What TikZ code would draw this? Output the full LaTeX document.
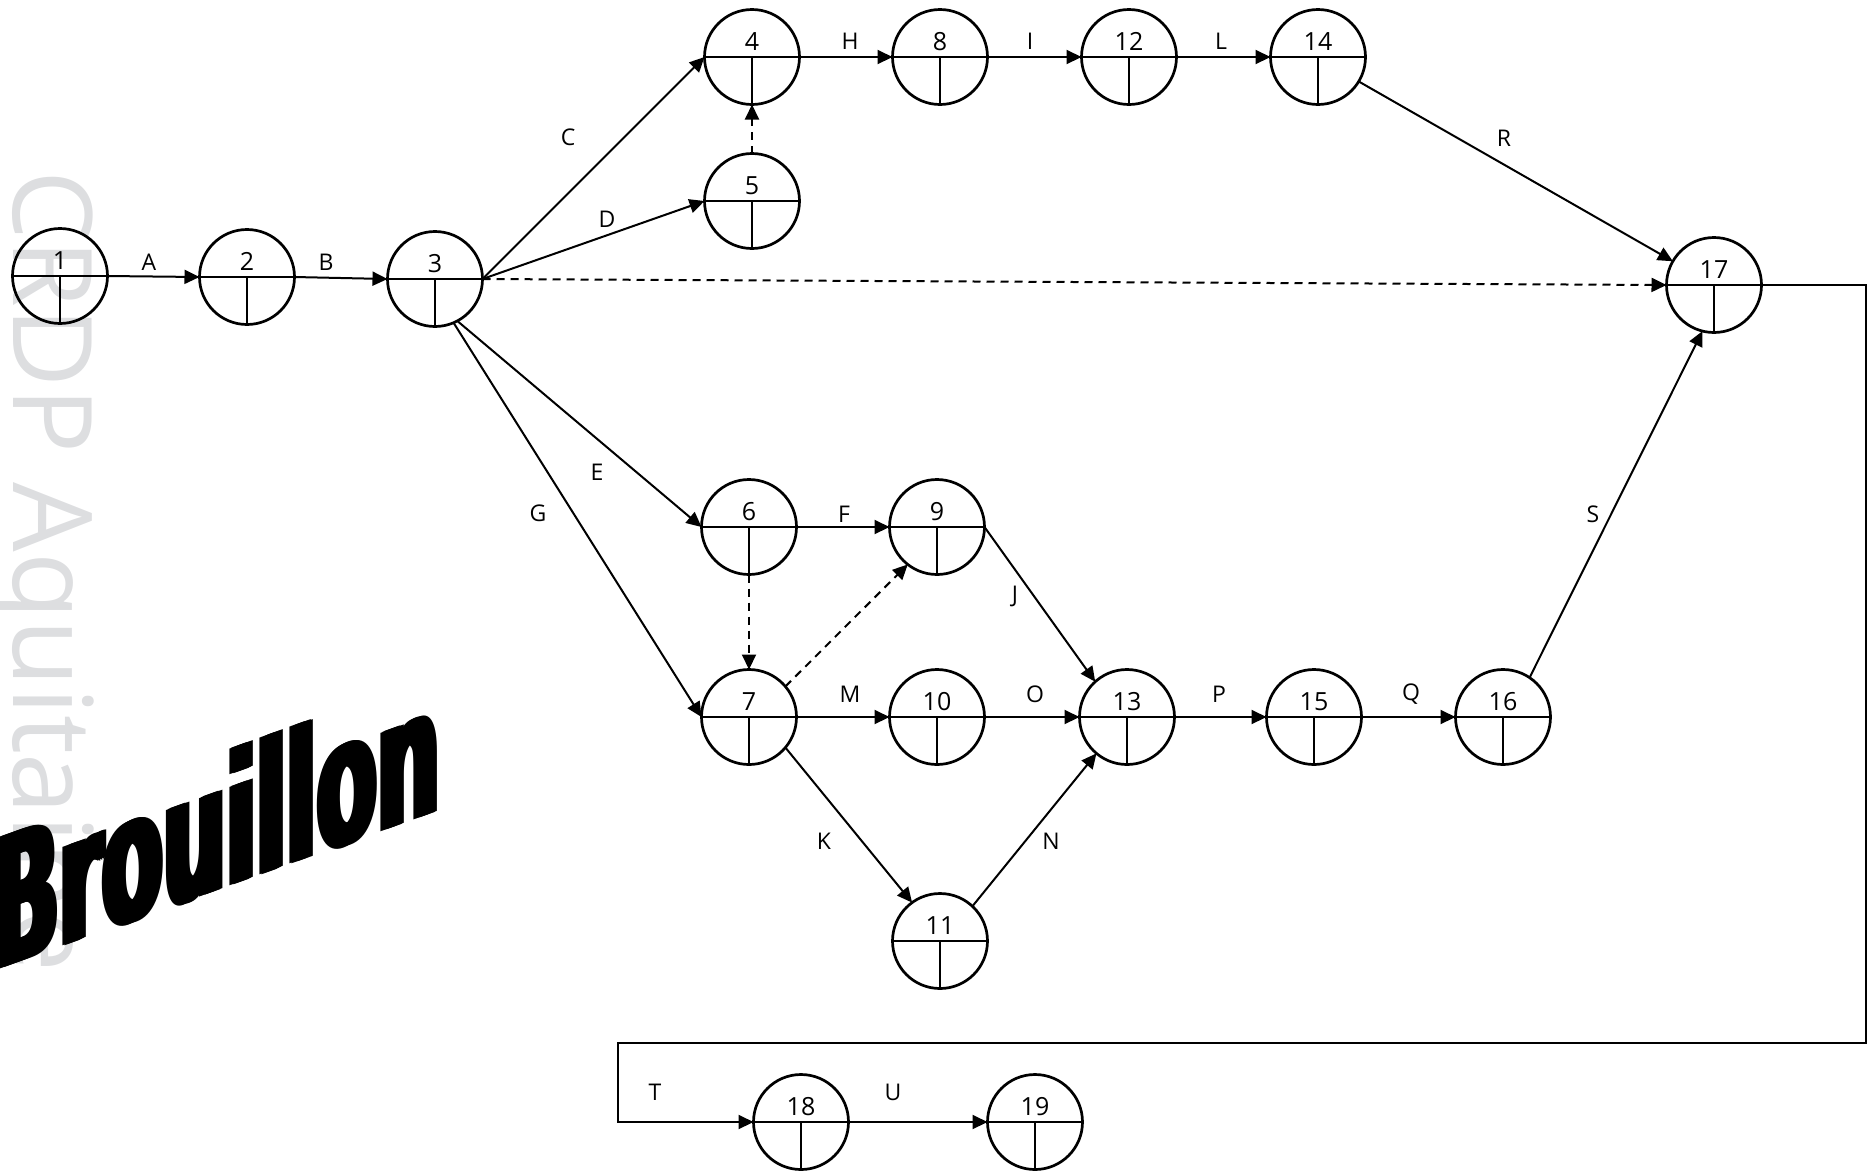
\documentclass[tikz,border=0pt]{standalone}
\usepackage{fontspec}
\setmainfont{Open Sans}
\newfontfamily\wmfont{Open Sans}
\newfontfamily\brfont{DejaVu Sans}
\usetikzlibrary{arrows.meta}
\definecolor{wmgray}{RGB}{221,222,224}
\begin{document}
\begin{tikzpicture}[x=0.5pt, y=-0.5pt,
  ev/.style={circle, draw, line width=1.35pt, minimum size=47.5pt, inner sep=0pt, outer sep=0pt,
    path picture={\draw[line width=1pt] (path picture bounding box.west) -- (path picture bounding box.east)
      (path picture bounding box.center) -- (path picture bounding box.south);}},
  num/.style={inner sep=0pt, yshift=7.9pt, font=\fontsize{12.5}{13}\selectfont},
  act/.style={line width=1pt, -{Triangle[length=7.5pt,width=7pt]}},
  dum/.style={act, dash pattern=on 4pt off 3pt},
  lbl/.style={inner sep=0pt, font=\fontsize{11.5}{12}\selectfont}
]
\useasboundingbox (0,0) rectangle (1870,1174);
\clip (0,0) rectangle (1870,1174);

% watermark
\node[rotate=-90, anchor=base west, inner sep=0pt, text=wmgray,
      font=\wmfont\fontsize{55}{55}\selectfont] (wm) at (13,170) {CRDP Aquitaine};
\begin{scope}[shift={(-12,973)}, yslant=0.36, xscale=0.49]
  \foreach \d in {0,4,8,12,16}
    \node[anchor=base west, inner sep=0pt, transform shape,
          font=\brfont\bfseries\fontsize{90}{90}\selectfont] (br\d) at (\d,0) {Brouillon};
\end{scope}

% events
\node[ev, label={[num]center:1}]  (n1)  at (60,276)  {};
\node[ev, label={[num]center:2}]  (n2)  at (247,277) {};
\node[ev, label={[num]center:3}]  (n3)  at (435,279) {};
\node[ev, label={[num]center:4}]  (n4)  at (752,57)  {};
\node[ev, label={[num]center:5}]  (n5)  at (752,201) {};
\node[ev, label={[num]center:8}]  (n8)  at (940,57)  {};
\node[ev, label={[num]center:12}] (n12) at (1129,57) {};
\node[ev, label={[num]center:14}] (n14) at (1318,57) {};
\node[ev, label={[num]center:17}] (n17) at (1714,285) {};
\node[ev, label={[num]center:6}]  (n6)  at (749,527) {};
\node[ev, label={[num]center:9}]  (n9)  at (937,527) {};
\node[ev, label={[num]center:7}]  (n7)  at (749,717) {};
\node[ev, label={[num]center:10}] (n10) at (937,717) {};
\node[ev, label={[num]center:13}] (n13) at (1127,717) {};
\node[ev, label={[num]center:15}] (n15) at (1314,717) {};
\node[ev, label={[num]center:16}] (n16) at (1503,717) {};
\node[ev, label={[num]center:11}] (n11) at (940,941) {};
\node[ev, label={[num]center:18}] (n18) at (801,1122) {};
\node[ev, label={[num]center:19}] (n19) at (1035,1122) {};

% activities
\draw[act] (n1.east) -- (n2.west);
\draw[act] (n2.east) -- (n3.west);
\draw[act] (n3.east) -- (n4.west);
\draw[act] (n3.east) -- (n5.west);
\draw[dum] (n3.east) -- (n17.west);
\draw[act] (n3.-62) -- (n6.west);
\draw[act] (n3.-67) -- (n7.west);
\draw[dum] (n5.north) -- (n4.south);
\draw[act] (n4.east) -- (n8.west);
\draw[act] (n8.east) -- (n12.west);
\draw[act] (n12.east) -- (n14.west);
\draw[act] (n14.-31) -- (n17.150);
\draw[act] (n6.east) -- (n9.west);
\draw[dum] (n6.south) -- (n7.north);
\draw[dum] (n7.40) -- (n9.-128);
\draw[act] (n9.east) -- (n13.132);
\draw[act] (n7.east) -- (n10.west);
\draw[act] (n10.east) -- (n13.west);
\draw[act] (n7.-40) -- (n11.126);
\draw[act] (n11.47) -- (n13.-130);
\draw[act] (n13.east) -- (n15.west);
\draw[act] (n15.east) -- (n16.west);
\draw[act] (n16.56) -- (n17.-104);
\coordinate (cR) at (1866,1043);
\coordinate (cL) at (618,1043);
\draw[act] (n17.east) -| (cR) -- (cL) |- (n18.west);
\draw[act] (n18.east) -- (n19.west);

% activity labels
\node[lbl] (lA) at (149,262) {A};
\node[lbl] (lB) at (326,262) {B};
\node[lbl] (lC) at (568,137) {C};
\node[lbl] (lD) at (607,219) {D};
\node[lbl] (lH) at (850,41)  {H};
\node[lbl] (lI) at (1030,41) {I};
\node[lbl] (lL) at (1221,41) {L};
\node[lbl] (lR) at (1504,138) {R};
\node[lbl] (lE) at (597,472) {E};
\node[lbl] (lG) at (538,513) {G};
\node[lbl] (lF) at (844,514) {F};
\node[lbl] (lJ) at (1015,596) {J};
\node[lbl] (lM) at (850,694) {M};
\node[lbl] (lO) at (1035,694) {O};
\node[lbl] (lP) at (1219,694) {P};
\node[lbl] (lQ) at (1411,694) {Q};
\node[lbl] (lK) at (824,841) {K};
\node[lbl] (lN) at (1051,841) {N};
\node[lbl] (lS) at (1593,514) {S};
\node[lbl] (lT) at (655,1092) {T};
\node[lbl] (lU) at (893,1092) {U};
\end{tikzpicture}
\end{document}
